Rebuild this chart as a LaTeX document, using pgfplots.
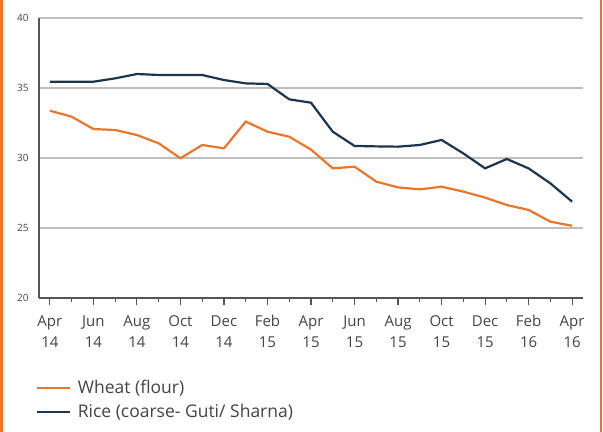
\documentclass[border=0pt]{standalone}
\usepackage{pgfplots}
\pgfplotsset{compat=1.18}
\usepackage{fontspec}
\setmainfont{Open Sans}
\definecolor{wheat}{HTML}{E8762C}
\definecolor{rice}{HTML}{1E3550}
\definecolor{gridgray}{HTML}{BEBEBE}
\definecolor{axgray}{HTML}{555555}
\definecolor{txtgray}{HTML}{444444}
\begin{document}
\begin{tikzpicture}
\useasboundingbox (-39bp,-134bp) rectangle (564bp,298bp);
\draw[wheat, line width=3bp] (-37.5bp,-134bp) -- (-37.5bp,298bp);
\draw[wheat, line width=2bp] (562bp,-134bp) -- (562bp,298bp);
\begin{axis}[
  at={(0,0)}, anchor=south west,
  scale only axis, width=544bp, height=280bp,
  xmin=-0.5, xmax=24.5, ymin=20, ymax=40,
  axis x line*=bottom, axis y line*=left,
  axis line style={axgray, line width=1.3bp},
  xtick={0,2,...,24},
  minor xtick={1,3,...,23},
  xticklabels={{Apr\\14},{Jun\\14},{Aug\\14},{Oct\\14},{Dec\\14},{Feb\\15},{Apr\\15},{Jun\\15},{Aug\\15},{Oct\\15},{Dec\\15},{Feb\\16},{Apr\\16}},
  xticklabel style={align=center, font=\fontsize{15bp}{21bp}\selectfont, text=txtgray, yshift=-7bp},
  tick align=outside,
  major tick length=7bp, minor tick length=4bp,
  every tick/.style={axgray, line width=1.1bp},
  ytick={20,25,30,35,40},
  yticklabel style={font=\fontsize{10bp}{12bp}\selectfont, text=txtgray},
  /pgf/number format/assume math mode=true,
  y tick style={draw=none},
  ymajorgrids, grid style={gridgray, line width=2.2bp},
  clip=false,
  legend style={draw=none, fill=none, at={(-0.012,-0.28)}, anchor=north west,
    font=\fontsize{17.5bp}{19bp}\selectfont, text=txtgray, row sep=5bp,
    legend cell align=left, nodes={inner xsep=7bp}},
  legend image code/.code={\draw[#1, line width=2.2bp] (0bp,0bp) -- (33bp,0bp);},
]
\addplot[wheat, line width=2.2bp] coordinates {
(0,33.38) (1,32.95) (2,32.07) (3,32.0) (4,31.64) (5,31.05) (6,29.98) (7,30.93) (8,30.69) (9,32.6) (10,31.88) (11,31.52) (12,30.6) (13,29.26) (14,29.38) (15,28.31) (16,27.9) (17,27.76) (18,27.95) (19,27.6) (20,27.17) (21,26.64) (22,26.29) (23,25.45) (24,25.16)
};
\addlegendentry{Wheat (flour)}
\addplot[rice, line width=2.2bp] coordinates {
(0,35.45) (1,35.45) (2,35.45) (3,35.69) (4,36.0) (5,35.93) (6,35.93) (7,35.93) (8,35.57) (9,35.33) (10,35.29) (11,34.19) (12,33.95) (13,31.88) (14,30.86) (15,30.83) (16,30.81) (17,30.93) (18,31.29) (19,30.33) (20,29.26) (21,29.93) (22,29.26) (23,28.19) (24,26.88)
};
\addlegendentry{Rice (coarse- Guti/ Sharna)}
\end{axis}
\end{tikzpicture}
\end{document}
